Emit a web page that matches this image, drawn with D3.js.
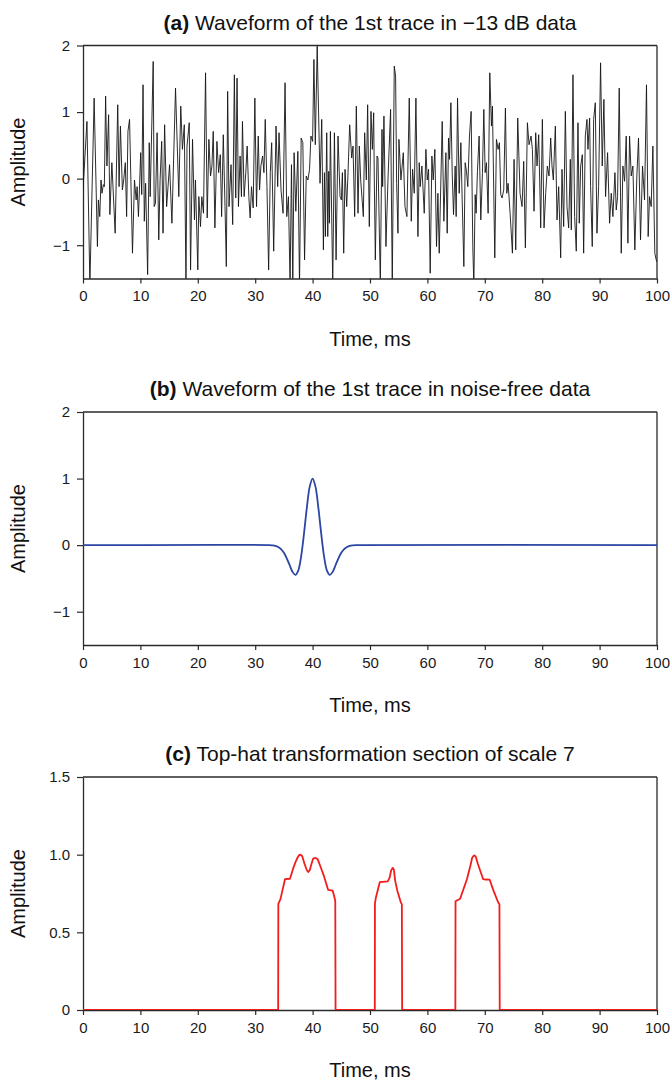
<!DOCTYPE html>
<html>
<head>
<meta charset="utf-8">
<script src="https://cdn.jsdelivr.net/npm/d3@7/dist/d3.min.js"></script>
<style>
  html, body { margin: 0; padding: 0; background: #fff; }
  svg { display: block; font-family: "Liberation Sans", Arial, sans-serif; }
</style>
</head>
<body>
<svg id="chart" width="670" height="1081"></svg>
<script>
// ---- data -------------------------------------------------------------
// Time axis (ms), shared by all three panels
const timeTicks = [0, 10, 20, 30, 40, 50, 60, 70, 80, 90, 100];

// (a) first trace of the -13 dB data: [time ms, amplitude]
const traceNoisy = [
  [0.00,-0.17],[0.69,0.86],[1.20,-1.6],[1.94,1.21],[2.51,-1.02],[2.68,-0.32],[2.92,-0.57],[3.14,-0.02],
  [3.31,-0.22],[3.54,-0.09],[3.72,-0.12],[3.94,1.24],[4.17,0.19],[4.46,0.96],[4.68,-0.54],[5.03,0.24],
  [5.60,-0.82],[6.05,1.11],[6.29,-0.12],[6.52,0.79],[6.86,-0.17],[7.09,-0.02],[7.37,0.24],[7.60,-0.57],
  [7.83,0.71],[8.11,0.89],[8.62,-1.12],[8.97,-0.02],[9.26,-0.32],[9.43,-0.12],[9.66,-0.57],[9.83,-0.17],
  [10.05,0.39],[10.23,-0.24],[10.46,1.41],[10.68,-0.64],[10.91,-0.07],[11.26,-1.44],[11.54,0.54],[11.71,-0.27],
  [12.23,1.76],[12.40,-0.42],[12.63,-0.37],[12.91,0.69],[13.20,-0.92],[13.43,-0.02],[13.71,0.56],[13.94,-0.82],
  [14.22,0.81],[14.57,-0.42],[15.08,0.21],[15.49,-0.67],[16.12,1.36],[16.69,-0.27],[17.03,1.09],[17.32,0.44],
  [17.65,0.81],[17.94,-1.6],[18.12,0.49],[18.51,0.84],[18.74,-1.37],[19.08,0.59],[19.42,-0.62],[19.59,-0.02],
  [20.00,-1.37],[20.18,-0.27],[20.47,-0.72],[20.70,-0.27],[20.99,-0.52],[21.35,1.59],[21.64,-0.59],[21.93,0.59],
  [22.22,0.04],[22.46,0.19],[22.69,0.71],[22.98,-0.74],[23.33,0.56],[23.63,0.09],[23.92,0.36],[24.15,-0.57],
  [24.44,0.66],[24.74,-0.42],[24.97,-1.32],[25.20,1.31],[25.44,-0.42],[25.79,0.21],[26.08,-0.69],[26.37,1.56],
  [26.61,-0.29],[26.84,1.51],[27.08,-0.42],[27.37,0.34],[27.60,-0.27],[27.78,0.86],[28.07,-0.27],[28.36,0.09],
  [28.60,0.49],[28.89,-0.27],[29.12,-0.59],[29.36,-0.12],[29.65,-0.44],[29.94,1.21],[30.23,-0.42],[30.53,0.64],
  [30.76,-0.17],[30.99,0.19],[31.29,0.34],[31.52,0.09],[31.75,0.89],[32.05,-0.12],[32.34,-1.37],[32.63,0.09],
  [32.87,0.54],[33.22,-1.09],[33.63,0.79],[33.92,-0.12],[34.15,0.69],[34.50,-0.17],[34.85,-0.52],[35.20,1.44],
  [35.50,-0.57],[35.79,-0.27],[36.08,-1.6],[36.32,0.21],[36.55,-1.6],[36.78,0.39],[37.08,-0.49],[37.43,0.41],
  [37.72,-1.6],[38.01,0.61],[38.30,0.54],[38.60,-1.22],[38.89,0.04],[39.18,-0.02],[39.47,0.14],[39.71,0.64],
  [40.00,0.56],[40.23,1.79],[40.47,0.51],[40.80,1.99],[41.30,-0.07],[41.59,0.89],[41.88,-1.07],[42.06,0.09],
  [42.23,-0.87],[42.46,0.69],[42.64,-0.87],[42.81,0.11],[42.93,-0.67],[43.10,0.71],[43.51,-1.6],[43.80,0.69],
  [44.09,-1.22],[44.43,0.64],[44.78,-0.27],[45.01,-0.32],[45.19,0.09],[45.42,-1.12],[45.65,0.14],[45.94,-0.42],
  [46.17,0.09],[46.46,0.81],[46.81,0.31],[47.04,0.49],[47.33,-0.57],[47.62,1.09],[47.91,-0.52],[48.14,0.49],
  [48.38,-0.02],[48.84,-0.57],[49.07,0.69],[49.36,-0.02],[49.59,1.11],[49.88,-0.72],[50.17,1.01],[50.41,0.44],
  [50.64,0.99],[50.75,-0.02],[50.93,-1.22],[51.22,0.34],[51.39,0.31],[51.80,-1.6],[52.09,0.74],[52.20,-0.12],
  [52.43,0.94],[52.78,-1.02],[53.13,-0.02],[53.59,1.04],[53.88,-1.6],[54.23,1.69],[54.46,1.54],[54.64,-0.07],
  [54.87,-0.82],[55.04,0.59],[55.39,-0.02],[55.80,0.39],[56.09,-0.42],[56.43,-0.57],[56.84,1.21],[57.19,-0.64],
  [57.42,0.14],[57.71,-0.22],[58.00,1.21],[58.35,-0.87],[58.58,0.24],[58.75,-0.12],[59.04,0.19],[59.45,-0.52],
  [59.74,0.44],[59.97,-0.02],[60.20,0.14],[60.49,-1.42],[60.78,0.34],[61.01,-0.02],[61.30,0.44],[61.59,-1.02],
  [61.83,-0.22],[62.06,-1.12],[62.35,-0.02],[62.58,0.86],[62.87,-0.64],[63.22,0.39],[63.45,-0.82],[63.68,0.61],
  [63.86,0.29],[64.09,1.14],[64.32,0.09],[64.55,-0.54],[64.84,0.19],[65.01,-0.57],[65.25,1.21],[65.54,-0.22],
  [65.83,0.54],[66.06,-0.32],[66.35,-1.32],[66.58,0.24],[66.81,0.11],[67.04,-0.12],[67.33,0.64],[67.62,1.01],
  [67.91,-1.02],[68.09,-1.6],[68.32,-0.24],[68.49,-0.52],[68.72,0.11],[69.01,0.64],[69.30,-0.62],[69.59,0.09],
  [69.83,1.04],[70.06,0.09],[70.29,0.24],[70.58,-0.52],[70.87,1.59],[71.16,0.79],[71.33,1.09],[71.74,-1.19],
  [72.03,0.59],[72.32,0.44],[72.55,0.54],[72.78,-0.24],[73.01,-0.29],[73.30,-0.17],[73.59,1.06],[73.83,-0.22],
  [74.06,-0.07],[74.41,-0.52],[74.81,-1.12],[75.10,0.29],[75.39,-1.07],[75.74,0.91],[76.14,-0.22],[76.49,-0.42],
  [76.78,0.26],[77.07,-1.04],[77.42,0.84],[77.71,0.51],[78.06,0.64],[78.29,0.44],[78.58,-0.49],[78.87,0.69],
  [79.10,0.19],[79.39,0.66],[79.74,-0.74],[80.03,0.89],[80.32,-0.74],[80.61,-0.22],[80.90,0.19],[81.19,0.04],
  [81.48,0.61],[81.71,0.19],[81.94,-0.02],[82.29,0.79],[82.58,-0.62],[82.87,-0.12],[83.22,-1.19],[83.45,0.14],
  [83.74,-0.72],[84.03,1.01],[84.32,-0.42],[84.61,-0.74],[84.90,0.29],[85.07,-0.77],[85.36,1.56],[85.65,-0.57],
  [85.94,-1.09],[86.23,0.84],[86.46,-0.67],[86.70,0.19],[86.99,0.36],[87.22,-1.12],[87.51,0.64],[87.80,0.89],
  [87.97,0.44],[88.26,0.91],[88.43,-0.12],[88.72,-1.02],[88.96,0.89],[89.25,1.14],[89.54,-0.82],[89.83,-0.12],
  [90.17,1.74],[90.46,0.19],[90.75,1.19],[91.04,-0.27],[91.39,0.39],[91.74,-0.67],[92.03,-0.22],[92.32,-0.57],
  [92.67,0.09],[92.90,-0.47],[93.13,-0.27],[93.42,1.36],[93.77,-1.12],[94.06,0.19],[94.35,-0.04],[94.64,0.64],
  [94.93,-0.97],[95.22,0.64],[95.51,0.04],[95.80,0.19],[96.14,-1.07],[96.49,0.04],[96.78,0.61],[97.13,-0.92],
  [97.48,0.19],[97.83,-0.32],[98.17,1.41],[98.46,-0.87],[98.70,-0.27],[98.99,-0.42],[99.28,0.49],[99.62,-1.12],
  [99.86,-1.22],[100.00,-1.25]
];

// (b) first trace of the noise-free data (zero outside 32.5-47.5 ms)
const cleanTimes = [0, 32.5, 33, 33.5, 34, 34.5, 35, 35.5, 36, 36.5, 37, 37.5, 38, 38.5, 39, 39.5,
  40, 40.5, 41, 41.5, 42, 42.5, 43, 43.5, 44, 44.5, 45, 45.5, 46, 46.5, 47, 47.5, 100];
const cleanAmps = [0, 0, -0.004, -0.011, -0.027, -0.059, -0.114, -0.197, -0.301, -0.400, -0.446, -0.382,
  -0.171, 0.172, 0.564, 0.879, 1.0, 0.879, 0.564, 0.172, -0.171, -0.382, -0.446, -0.400, -0.301,
  -0.197, -0.114, -0.059, -0.027, -0.011, -0.004, 0, 0];

// (c) top-hat transformation section, scale 7
const topHatTimes = [0, 34.0, 34.03, 34.4, 35.2, 36.06, 36.6, 37.0, 37.3, 37.6, 37.9, 38.2, 38.6, 39.0, 39.25,
  39.5, 39.8, 40.1, 40.5, 40.9, 41.3, 42.0, 42.7, 43.5, 43.85, 43.95, 44.0,
  50.84, 50.86, 51.0, 51.7, 53.1, 53.4, 53.7, 53.95, 54.15, 54.4, 54.75, 55.35, 55.55, 55.6,
  64.87, 64.9, 65.7, 66.9, 67.5, 67.8, 68.1, 68.4, 68.8, 69.7, 70.2, 70.85, 71.5, 72.3, 72.55, 72.6, 100];
const topHatAmps = [0, 0, 0.684, 0.714, 0.843, 0.845, 0.91, 0.95, 0.975, 0.995, 1.0, 0.99, 0.94, 0.90, 0.888,
  0.90, 0.94, 0.975, 0.979, 0.97, 0.93, 0.86, 0.774, 0.768, 0.72, 0.70, 0,
  0, 0.684, 0.72, 0.823, 0.828, 0.85, 0.90, 0.915, 0.905, 0.83, 0.77, 0.695, 0.68, 0,
  0, 0.70, 0.716, 0.843, 0.93, 0.98, 0.995, 0.99, 0.94, 0.843, 0.84, 0.839, 0.77, 0.695, 0.68, 0, 0];

// y ticks
const ticksAB = [-1, 0, 1, 2];
const ticksC = [0, 0.5, 1.0, 1.5];

// ---- layout ------------------------------------------------------------
const svg = d3.select("#chart");
const left = 83, right = 657;
const x = d3.scaleLinear().domain([0, 100]).range([left, right]);

const panels = [
  { top: 45.5, bottom: 278.5, domain: [-1.5, 2], ticks: ticksAB,
    fmt: d => (d < 0 ? "\u2212" + Math.abs(d) : String(d)),
    tag: "(a)", title: " Waveform of the 1st trace in \u221213 dB data",
    data: traceNoisy, color: "#151515", width: 0.9 },
  { top: 412, bottom: 645, domain: [-1.5, 2], ticks: ticksAB,
    fmt: d => (d < 0 ? "\u2212" + Math.abs(d) : String(d)),
    tag: "(b)", title: " Waveform of the 1st trace in noise-free data",
    data: cleanTimes.map((t, i) => [t, cleanAmps[i]]), color: "#2c46a4", width: 1.8,
    curve: d3.curveCatmullRom },
  { top: 777, bottom: 1010, domain: [0, 1.5], ticks: ticksC,
    fmt: d => (d === 0 ? "0" : d.toFixed(1)),
    tag: "(c)", title: " Top-hat transformation section of scale 7",
    data: topHatTimes.map((t, i) => [t, topHatAmps[i]]), color: "#f21d1d", width: 1.8 }
];

const axisColor = "#2a2a2a";

panels.forEach((p, idx) => {
  const y = d3.scaleLinear().domain(p.domain).range([p.bottom, p.top]);
  const g = svg.append("g");

  // clip region for the trace
  const clipId = "clip" + idx;
  svg.append("clipPath").attr("id", clipId)
    .append("rect")
    .attr("x", left).attr("y", p.top)
    .attr("width", right - left).attr("height", p.bottom - p.top);

  // x axis
  const xAxis = g.append("g")
    .attr("transform", `translate(0,${p.bottom})`)
    .call(d3.axisBottom(x).tickValues(timeTicks).tickSize(5).tickPadding(7).tickSizeOuter(0));
  // y axis
  const yAxis = g.append("g")
    .attr("transform", `translate(${left},0)`)
    .call(d3.axisLeft(y).tickValues(p.ticks).tickFormat(p.fmt).tickSize(6).tickPadding(7).tickSizeOuter(0));

  [xAxis, yAxis].forEach(a => {
    a.select(".domain").attr("stroke", axisColor).attr("stroke-width", 1.3);
    a.selectAll(".tick line").attr("stroke", axisColor).attr("stroke-width", 1.2);
    a.selectAll(".tick text").attr("fill", "#1a1a1a")
      .style("font-size", "15px")
      .style("font-family", '"Liberation Sans", Arial, sans-serif');
  });

  // top and right frame lines
  g.append("line").attr("x1", left).attr("x2", right).attr("y1", p.top).attr("y2", p.top)
    .attr("stroke", axisColor).attr("stroke-width", 1.3);
  g.append("line").attr("x1", right).attr("x2", right).attr("y1", p.top).attr("y2", p.bottom)
    .attr("stroke", axisColor).attr("stroke-width", 1.3);

  // the trace
  const line = d3.line().x(d => x(d[0])).y(d => y(d[1]));
  if (p.curve) line.curve(p.curve);
  g.append("path")
    .datum(p.data)
    .attr("clip-path", `url(#${clipId})`)
    .attr("fill", "none")
    .attr("stroke", p.color)
    .attr("stroke-width", p.width)
    .attr("stroke-linejoin", "round")
    .attr("d", line);

  // panel title
  const title = g.append("text")
    .attr("x", (left + right) / 2)
    .attr("y", p.top - 16)
    .attr("text-anchor", "middle")
    .style("font-size", "21px")
    .attr("fill", "#111");
  title.append("tspan").style("font-weight", "bold").text(p.tag);
  title.append("tspan").text(p.title);

  // axis titles
  g.append("text")
    .attr("x", (left + right) / 2)
    .attr("y", p.bottom + 67)
    .attr("text-anchor", "middle")
    .style("font-size", "20px")
    .attr("fill", "#111")
    .text("Time, ms");

  g.append("text")
    .attr("transform", `translate(25,${(p.top + p.bottom) / 2}) rotate(-90)`)
    .attr("text-anchor", "middle")
    .style("font-size", "20px")
    .attr("fill", "#111")
    .text("Amplitude");
});
</script>
</body>
</html>
